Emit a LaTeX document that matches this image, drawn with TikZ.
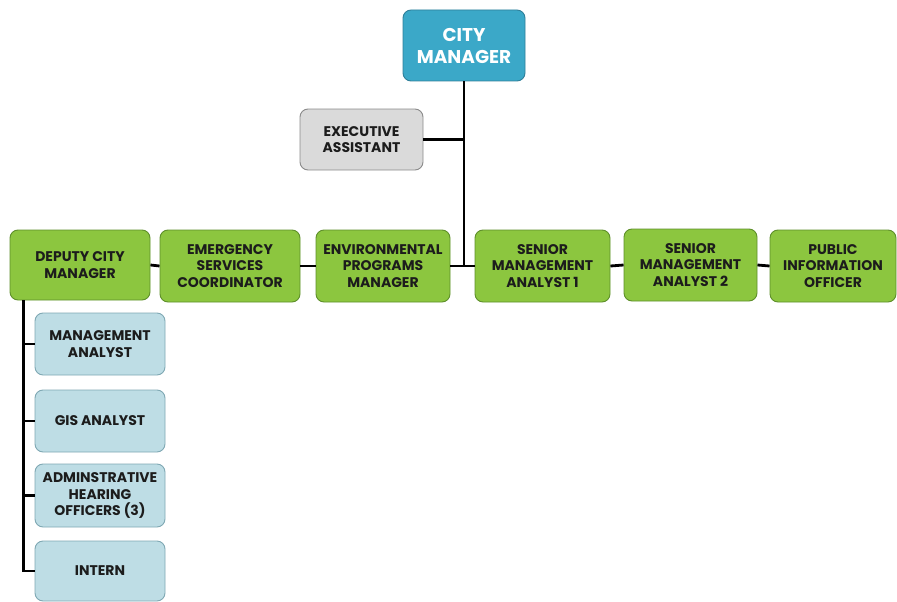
\documentclass[tikz,border=0pt]{standalone}
\usepackage{fontspec}
\setmainfont{Poppins}
\usetikzlibrary{calc}
\definecolor{cmblue}{HTML}{3BA8C8}
\definecolor{cmedge}{HTML}{2F7F99}
\definecolor{eagray}{HTML}{DADADA}
\definecolor{eaedge}{HTML}{8A8A8A}
\definecolor{ngreen}{HTML}{8CC63F}
\definecolor{gedge}{HTML}{5E8F2A}
\definecolor{lblue}{HTML}{BEDDE5}
\definecolor{bedge}{HTML}{7FA8B3}
\definecolor{ink}{HTML}{1C1C1C}
\tikzset{
  unit/.style={rounded corners=8pt, line width=0.9pt, align=center,
    inner sep=1pt, font=\bfseries\fontsize{14}{16.5}\selectfont, text=ink},
  topbox/.style={unit, fill=cmblue, draw=cmedge, text=white,
    font=\bfseries\fontsize{18.5}{22}\selectfont,
    minimum width=122pt, minimum height=71pt},
  graybox/.style={unit, fill=eagray, draw=eaedge,
    minimum width=123pt, minimum height=61pt},
  greenbox/.style={unit, fill=ngreen, draw=gedge, minimum height=72pt},
  bluebox/.style={unit, fill=lblue, draw=bedge,
    minimum width=130pt, minimum height=62pt},
  link/.style={line width=2.8pt, draw=black}
}
\begin{document}
\begin{tikzpicture}[x=1pt,y=-1pt]
  \useasboundingbox (0,0) rectangle (897,602);
  % top of the chart
  \node[topbox] (cm) at (464,45.5) {CITY\\MANAGER};
  \node[graybox] (ea) at (361.5,139.5) {EXECUTIVE\\ASSISTANT};
  % direct reports
  \node[greenbox, minimum width=140pt, minimum height=70pt] (dcm) at (80,265) {DEPUTY CITY\\MANAGER};
  \node[greenbox, minimum width=140pt] (esc) at (230,266) {EMERGENCY\\SERVICES\\COORDINATOR};
  \node[greenbox, minimum width=134pt] (epm) at (383,266) {ENVIRONMENTAL\\PROGRAMS\\MANAGER};
  \node[greenbox, minimum width=135pt] (sma1) at (542.5,266) {SENIOR\\MANAGEMENT\\ANALYST 1};
  \node[greenbox, minimum width=133pt] (sma2) at (690.5,265) {SENIOR\\MANAGEMENT\\ANALYST 2};
  \node[greenbox, minimum width=126pt] (pio) at (833,266) {PUBLIC\\INFORMATION\\OFFICER};
  % deputy city manager staff
  \node[bluebox] (ma) at (100,344) {MANAGEMENT\\ANALYST};
  \node[bluebox] (gis) at (100,421) {GIS ANALYST};
  \node[bluebox, minimum height=63pt] (aho) at (100,495.5) {ADMINSTRATIVE\\HEARING\\OFFICERS (3)};
  \node[bluebox, minimum height=60pt] (intern) at (100,571) {INTERN};
  % connectors
  \draw[link] (cm.south) -- (cm.south |- sma1.west) -- (sma1.west);
  \draw[link] (ea.east) -- (ea.east -| cm.south);
  \draw[link] (dcm.east) -- (esc.west);
  \draw[link] (esc.east) -- (epm.west);
  \draw[link] (epm.east) -- (sma1.west);
  \draw[link] (sma1.east) -- (sma2.west);
  \draw[link] (sma2.east) -- (pio.west);
  \coordinate (dtop) at ($(dcm.south west)+(14,0)$);
  \draw[link] (dtop) |- (intern.west);
  \draw[link] (ma.west) -- (ma.west -| dtop);
  \draw[link] (gis.west) -- (gis.west -| dtop);
  \draw[link] (aho.west) -- (aho.west -| dtop);
\end{tikzpicture}
\end{document}
